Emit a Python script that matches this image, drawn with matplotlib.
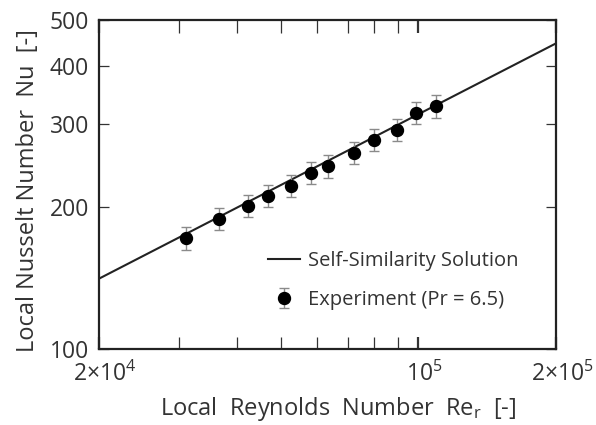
import matplotlib
matplotlib.use("Agg")
import matplotlib.pyplot as plt
import matplotlib.transforms as mtransforms
from matplotlib.ticker import FixedLocator, NullFormatter, NullLocator

plt.rcParams['font.family'] = ['Open Sans', 'DejaVu Sans']
plt.rcParams['mathtext.fontset'] = 'custom'
plt.rcParams['mathtext.rm'] = 'Open Sans'
plt.rcParams['mathtext.it'] = 'Open Sans:italic'
plt.rcParams['mathtext.bf'] = 'Open Sans:bold'

# Data
line_re = [2e4, 2e5]
line_nu = [141, 446]

exp_re = [31080, 36660, 42440, 46940, 52540, 58300, 63330, 72360, 79890, 89620, 99000, 109500]
exp_nu = [172, 189, 201.6, 211.7, 222.3, 237, 244.8, 261.3, 278.5, 292.4, 317.2, 327.8]
exp_err = [9.5, 10.5, 11, 11.5, 12, 13, 13.5, 14, 15, 16, 17, 18]

xtick_vals = [2e4, 1e5, 2e5]
xtick_labels = [r'$2{\times}10^4$', r'$10^5$', r'$2{\times}10^5$']
xminor_vals = [3e4, 4e4, 5e4, 6e4, 7e4, 8e4, 9e4]
ytick_vals = [100, 200, 300, 400, 500]
ytick_labels = ['100', '200', '300', '400', '500']

txt = '#333333'

fig = plt.figure(figsize=(5.96, 4.25), dpi=100)
ax = fig.add_axes([0.166, 0.179, 0.767, 0.774])
ax.set_xscale('log')
ax.set_yscale('log')

ax.plot(line_re, line_nu, color='#222222', lw=1.5, label='Self-Similarity Solution', zorder=2)
ax.errorbar(exp_re, exp_nu, yerr=exp_err, fmt='o', color='black', ms=8.6,
            ecolor='#8a8a8a', elinewidth=1.0, capsize=3.8, capthick=1.0,
            label='Experiment (Pr = 6.5)', zorder=3)

ax.set_xlim(2e4, 2e5)
ax.set_ylim(100, 500)

ax.xaxis.set_major_locator(FixedLocator(xtick_vals))
ax.set_xticklabels(xtick_labels)
ax.xaxis.set_minor_locator(FixedLocator(xminor_vals))
ax.xaxis.set_minor_formatter(NullFormatter())
ax.yaxis.set_major_locator(FixedLocator(ytick_vals))
ax.set_yticklabels(ytick_labels)
ax.yaxis.set_minor_locator(NullLocator())

ax.tick_params(axis='both', which='both', direction='in', top=True, right=True,
               colors='#333333', labelcolor=txt, labelsize=16.5)
ax.tick_params(axis='x', which='major', length=9, width=1.6, pad=9)
ax.tick_params(axis='x', which='minor', length=9, width=0.9)
ax.tick_params(axis='y', which='major', length=7, width=0.9, pad=7)

shift = mtransforms.ScaledTranslation(6 / 100, 0, fig.dpi_scale_trans)
for lab in ax.get_xticklabels():
    lab.set_transform(lab.get_transform() + shift)

for s in ax.spines.values():
    s.set_linewidth(1.6)
    s.set_color('#222222')

ax.set_xlabel(r'Local  Reynolds  Number  Re$_\mathrm{r}$  [-]', fontsize=17, color=txt, labelpad=6)
ax.set_ylabel('Local Nusselt Number  Nu  [-]', fontsize=17, color=txt, labelpad=7)
ax.xaxis.label.set_x(0.524)
ax.yaxis.label.set_y(0.48)

leg = ax.legend(loc='upper left', bbox_to_anchor=(0.37, 0.297), frameon=False, fontsize=14.5,
                handlelength=1.6, handletextpad=0.4, labelspacing=0.95, borderpad=0,
                borderaxespad=0, labelcolor=txt)

fig.savefig('out.png', dpi=100, facecolor='white')
